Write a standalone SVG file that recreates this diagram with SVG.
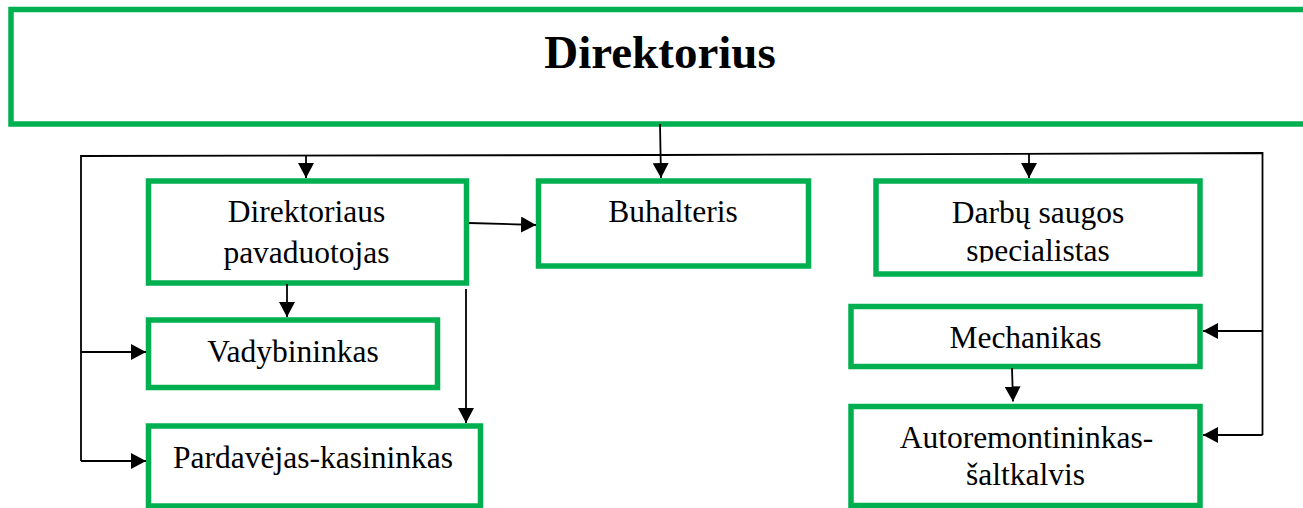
<svg xmlns="http://www.w3.org/2000/svg" width="1303" height="508" viewBox="0 0 1303 508">
<style>
.box{fill:#fff;stroke:#00b050;stroke-width:5.5}
.t{font-family:"Liberation Serif","Times New Roman",serif;font-size:31.5px;fill:#000;text-anchor:middle}
.tb{font-family:"Liberation Serif","Times New Roman",serif;font-size:47px;font-weight:bold;fill:#000;text-anchor:middle}
.c{fill:none;stroke:#000;stroke-width:1.8}
</style>
<defs>
<marker id="ah" markerUnits="userSpaceOnUse" markerWidth="16" markerHeight="16" refX="15" refY="8" orient="auto">
<path d="M0,0 L15,8 L0,16 Z" fill="#000"/>
</marker>
<clipPath id="clipDarbu"><rect x="870" y="170" width="340" height="92.5"/></clipPath>
</defs>
<g id="direktorius">
<rect class="box" x="11" y="9.5" width="1300" height="114.5"/>
<text class="tb" x="660" y="68">Direktorius</text>
</g>
<g id="pavaduotojas">
<rect class="box" x="148.5" y="181" width="318" height="102"/>
<text class="t" x="306.5" y="222">Direktoriaus</text>
<text class="t" x="306.5" y="263">pavaduotojas</text>
</g>
<g id="buhalteris">
<rect class="box" x="538.5" y="181" width="270" height="85"/>
<text class="t" x="673" y="222">Buhalteris</text>
</g>
<g id="darbu">
<rect class="box" x="876" y="181" width="324" height="93"/>
<g clip-path="url(#clipDarbu)">
<text class="t" x="1038" y="223">Darbų saugos</text>
<text class="t" x="1038" y="261">specialistas</text>
</g>
</g>
<g id="vadybininkas">
<rect class="box" x="148.5" y="320" width="289" height="67.5"/>
<text class="t" x="293" y="362">Vadybininkas</text>
</g>
<g id="pardavejas">
<rect class="box" x="148.5" y="426" width="332" height="80"/>
<text class="t" x="313" y="468">Pardavėjas-kasininkas</text>
</g>
<g id="mechanikas">
<rect class="box" x="851" y="306.5" width="349" height="60"/>
<text class="t" x="1025.5" y="348">Mechanikas</text>
</g>
<g id="autoremontininkas">
<rect class="box" x="851" y="406.5" width="349" height="99"/>
<text class="t" x="1026.5" y="448">Autoremontininkas-</text>
<text class="t" x="1025.5" y="485">šaltkalvis</text>
</g>
<g id="connectors">
<path class="c" d="M81,461 L81,156 L660,155 L1262.5,153 L1262.5,435"/>
<path class="c" d="M660,124 L661,178" marker-end="url(#ah)"/>
<path class="c" d="M306,156 L306,178" marker-end="url(#ah)"/>
<path class="c" d="M1029,154 L1029,178" marker-end="url(#ah)"/>
<path class="c" d="M81,352 L146,352" marker-end="url(#ah)"/>
<path class="c" d="M81,461 L146,461" marker-end="url(#ah)"/>
<path class="c" d="M469,223 L536,225" marker-end="url(#ah)"/>
<path class="c" d="M287,284 L287,317" marker-end="url(#ah)"/>
<path class="c" d="M466,289 L466,423" marker-end="url(#ah)"/>
<path class="c" d="M1262.5,331 L1203,331" marker-end="url(#ah)"/>
<path class="c" d="M1262.5,435 L1203,435" marker-end="url(#ah)"/>
<path class="c" d="M1012,368 L1013,401.5" marker-end="url(#ah)"/>
</g>
</svg>
